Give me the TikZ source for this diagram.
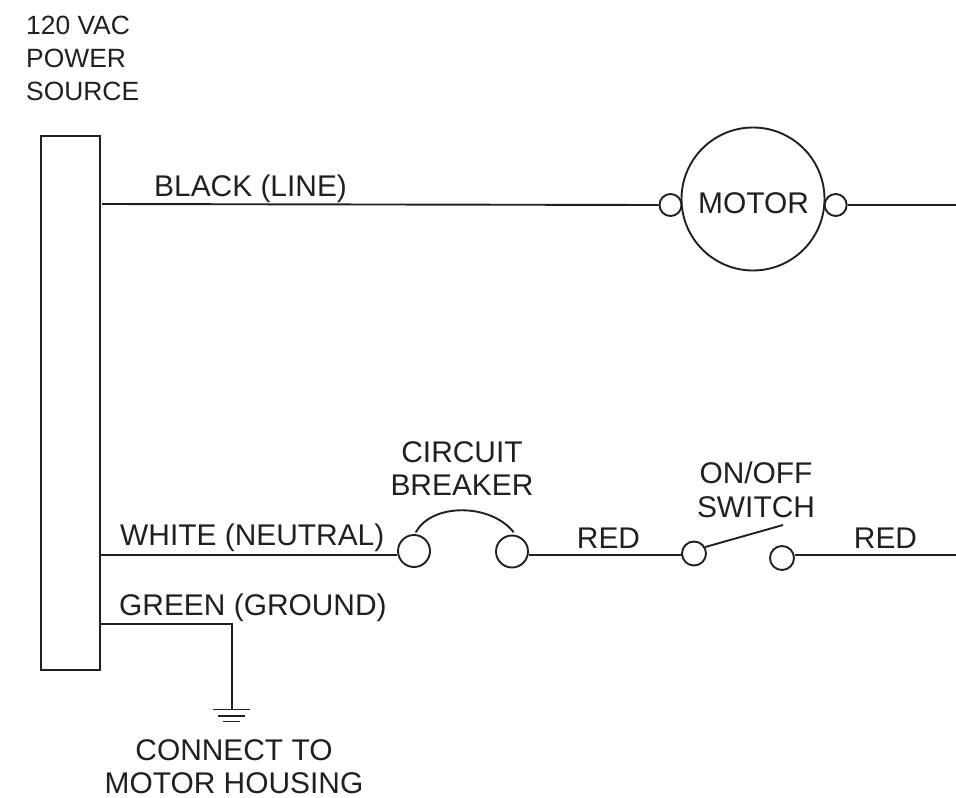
\documentclass[tikz,border=0pt]{standalone}
\usepackage{fontspec}
\setmainfont{Liberation Sans}
\definecolor{ink}{HTML}{231F20}
\tikzset{
 wire/.style={draw=ink,line width=1.9pt},
 term/.style={circle,draw=ink,line width=1.9pt,fill=white,inner sep=0pt,minimum size=#1},
 lab/.style={inner sep=0pt,text=ink,font=\fontsize{29.9}{33.5}\selectfont,align=#1},
 lab/.default=center
}
\begin{document}
\begin{tikzpicture}[x=1pt,y=-1pt]
\useasboundingbox (0,0) rectangle (956,798);
\node[anchor=west,inner sep=0pt,text=ink,align=left,font=\fontsize{26.4}{33}\selectfont] (src) at (26,58) {120 VAC\\POWER\\SOURCE};
\node[draw=ink,line width=1.9pt,minimum width=59pt,minimum height=534pt,inner sep=0pt] (box) at (70.2,403) {};
\coordinate (bL) at (102,204);
\coordinate (wN) at (100,555);
\coordinate (gN) at (100,624);
\coordinate (gC) at (232,624);
\coordinate (gB) at (232,709.5);
\coordinate (outA) at (956,205);
\coordinate (outB) at (956,555);
\node[term=143pt] (motor) at (753,199) {};
\node[lab] (mtxt) at (753.5,203.5) {MOTOR};
\node[term=22pt] (mL) at (670.5,205) {};
\node[term=22pt] (mR) at (835.7,205) {};
\draw[wire] (bL) -- (mL.west);
\draw[wire] (mR.east) -- (outA);
\node[term=32pt] (cb1) at (414,551) {};
\node[term=32pt] (cb2) at (512,551.5) {};
\draw[wire] (wN) -- (wN -| cb1.west);
\draw[wire] (cb2.east |- 0,555) coordinate (r1) -- (682,555);
\node[term=24pt] (sw1) at (694,553.5) {};
\node[term=24pt] (sw2) at (782,558) {};
\draw[wire] (sw2.east |- 0,555) -- (outB);
\draw[wire,line cap=round] (416,532) .. controls (432,503) and (490,503) .. (513.5,532);
\coordinate (arm) at (783,525);
\draw[wire] (sw1.30) -- (arm);
\draw[wire] (gN) -- (gC) -- (gB);
\coordinate (g1a) at (213,709.5);\coordinate (g1b) at (250,709.5);
\coordinate (g2a) at (218,716);\coordinate (g2b) at (245,716);
\coordinate (g3a) at (223,721.5);\coordinate (g3b) at (240,721.5);
\draw[wire] (g1a) -- (g1b);
\draw[wire] (g2a) -- (g2b);
\draw[wire] (g3a) -- (g3b);
\node[lab,anchor=west] (l1) at (154,189) {BLACK (LINE)};
\node[lab,anchor=west] (l2) at (120,538) {WHITE (NEUTRAL)};
\node[lab,anchor=west] (l3) at (119,608) {GREEN (GROUND)};
\node[lab] (l4) at (462,468.5) {CIRCUIT\\BREAKER};
\node[lab] (l5) at (756,490) {ON/OFF\\SWITCH};
\node[lab] (l6) at (608.5,538) {RED};
\node[lab] (l7) at (885.5,538) {RED};
\node[lab] (l8) at (234,766.5) {CONNECT TO\\MOTOR HOUSING};
\end{tikzpicture}
\end{document}
